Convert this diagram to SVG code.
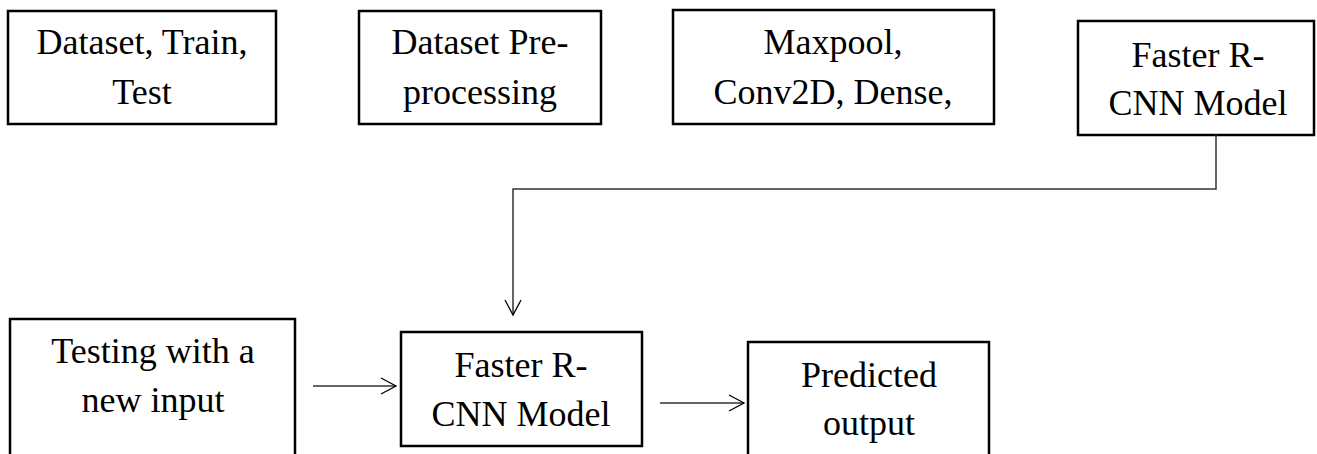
<svg xmlns="http://www.w3.org/2000/svg" width="1317" height="454" viewBox="0 0 1317 454">
<style>
.box{fill:#fff;stroke:#000;stroke-width:2.5}
.t{font-family:"Liberation Serif","Times New Roman",serif;font-size:36px;fill:#000;text-anchor:middle}
.c{fill:none;stroke:#333;stroke-width:1.5}
</style>
<defs>
<marker id="ah" viewBox="0 0 20 20" refX="16" refY="10" markerWidth="20" markerHeight="20" markerUnits="userSpaceOnUse" orient="auto">
<path d="M1,2 L16,10 L1,18" fill="none" stroke="#000" stroke-width="1.3"/>
</marker>
</defs>
<rect width="1317" height="454" fill="#fff"/>
<g id="n1"><rect class="box" x="8" y="11" width="268" height="113"/><text class="t" x="142" y="54">Dataset, Train,</text><text class="t" x="142" y="104">Test</text></g>
<g id="n2"><rect class="box" x="359" y="11" width="242" height="113"/><text class="t" x="480" y="54">Dataset Pre-</text><text class="t" x="480" y="104">processing</text></g>
<g id="n3"><rect class="box" x="673" y="10" width="321" height="114"/><text class="t" x="833" y="54">Maxpool,</text><text class="t" x="833" y="104">Conv2D, Dense,</text></g>
<g id="n4"><rect class="box" x="1078" y="21" width="236" height="114"/><text class="t" x="1198" y="67">Faster R-</text><text class="t" x="1198" y="115">CNN Model</text></g>
<g id="n5"><rect class="box" x="401" y="332" width="241" height="114"/><text class="t" x="521" y="377">Faster R-</text><text class="t" x="521" y="426">CNN Model</text></g>
<g id="n6"><rect class="box" x="10" y="319" width="285" height="150"/><text class="t" x="153" y="363">Testing with a</text><text class="t" x="153" y="412">new input</text></g>
<g id="n7"><rect class="box" x="748" y="342" width="241" height="130"/><text class="t" x="869" y="387">Predicted</text><text class="t" x="869" y="435">output</text></g>
<g id="connectors">
<path class="c" d="M1216,135 V189 H513 V315" marker-end="url(#ah)"/>
<path class="c" d="M313,386 H396" marker-end="url(#ah)"/>
<path class="c" d="M660,403 H744" marker-end="url(#ah)"/>
</g>
</svg>
